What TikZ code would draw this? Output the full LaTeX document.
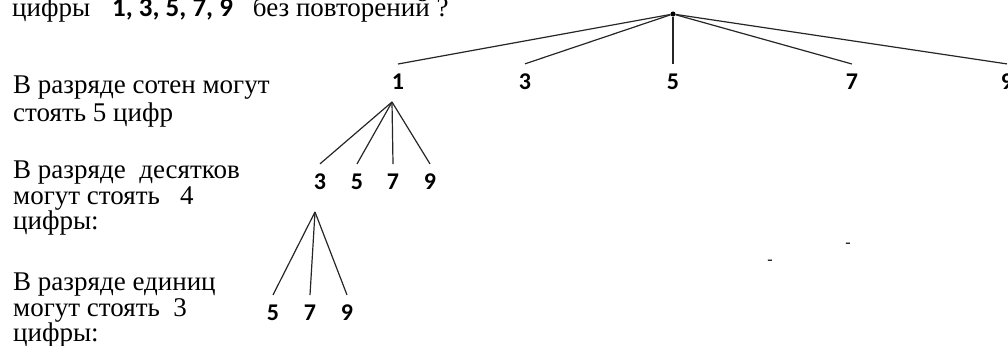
\documentclass[tikz,border=0pt]{standalone}
\usepackage{fontspec}
\setmainfont{Liberation Serif}
\newfontfamily\digitfont{Carlito}

\begin{document}
\begin{tikzpicture}[x=1pt,y=-1pt,
  digit/.style={font=\digitfont\bfseries\fontsize{24}{24}\selectfont,
    inner xsep=2pt, inner ysep=10pt},
  caption/.style={font=\fontsize{27}{25.5}\selectfont, align=left,
    anchor=north west, inner sep=0pt},
  branch/.style={line width=1.2pt, black!85}]
\useasboundingbox (0,0) rectangle (1008,345);

% question line (its top is cut off)
\node[anchor=base west, inner sep=0pt, font=\fontsize{27}{27}\selectfont] (question) at (12,17)
{цифры\hspace{22pt}{\digitfont\bfseries\fontsize{27}{27}\selectfont 1, 3, 5, 7, 9}\hspace{20pt}без повторений ?};

% captions on the left
\node[caption, font=\fontsize{27}{28}\selectfont] (hundreds) at (13,76)
{В разряде сотен могут\\стоять 5 цифр};
\node[caption] (tens) at (13,161)
{В разряде\ \ десятков\\могут стоять\ \ \ 4\\цифры:};
\node[caption] (units) at (13,273)
{В разряде единиц\\могут стоять\ \ 3\\цифры:};

% root
\node[circle, fill, inner sep=1.8pt] (root) at (673,14) {};

% hundreds
\node[digit] (h1) at (398,82) {1};
\node[digit] (h3) at (525,82) {3};
\node[digit] (h5) at (673,82) {5};
\node[digit] (h7) at (852,82) {7};
\node[digit] (h9) at (1007,82) {9};

% tens
\coordinate (fork1) at (392,102);
\node[digit] (t3) at (320,182) {3};
\node[digit] (t5) at (357,182) {5};
\node[digit] (t7) at (393,182) {7};
\node[digit] (t9) at (430,182) {9};

% units
\coordinate (fork3) at (315,212);
\node[digit] (u5) at (273,313) {5};
\node[digit] (u7) at (310,313) {7};
\node[digit] (u9) at (347,313) {9};

% stray marks
\node[inner sep=0pt, font=\fontsize{16}{16}\selectfont] (markA) at (770,262) {-};
\node[inner sep=0pt, font=\fontsize{16}{16}\selectfont] (markB) at (848,245) {-};

\draw[branch] (root) -- (h1.north);
\draw[branch] (root) -- (h3.north);
\draw[branch] (root) -- (h5.north);
\draw[branch] (root) -- (h7.north);
\draw[branch] (root) -- (h9.north);

\draw[branch] (fork1) -- (t3.north);
\draw[branch] (fork1) -- (t5.north);
\draw[branch] (fork1) -- (t7.north);
\draw[branch] (fork1) -- (t9.north);

\draw[branch] (fork3) -- (u5.north);
\draw[branch] (fork3) -- (u7.north);
\draw[branch] (fork3) -- (u9.north);
\end{tikzpicture}
\end{document}
